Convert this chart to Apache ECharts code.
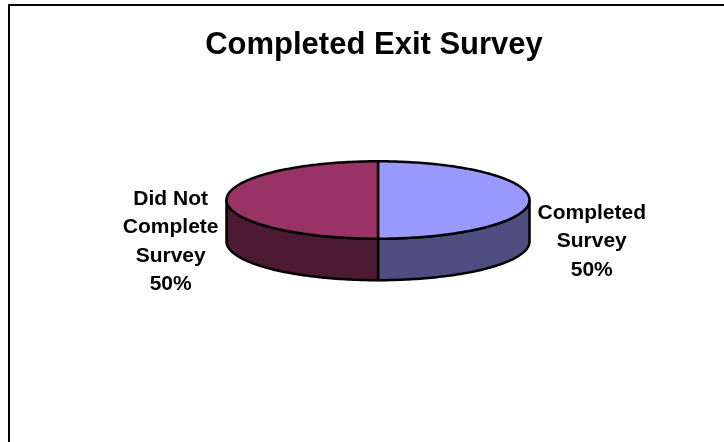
<!DOCTYPE html>
<html>
<head>
<meta charset="utf-8">
<script src="https://cdn.jsdelivr.net/npm/echarts@6/dist/echarts.min.js"></script>
<style>
html,body{margin:0;padding:0;background:#fff;}
#chart{width:724px;height:442px;}
</style>
</head>
<body>
<div id="chart"></div>
<script>
// ---- data ----
const titleText = 'Completed Exit Survey';
const categories = ['Completed\nSurvey', 'Did Not\nComplete\nSurvey'];
const values = [50, 50];
const topColors = ['#9999FF', '#993366'];
const sideColors = ['#4D4D80', '#4D1A33'];

// ---- layout ----
const CX = 378, CY = 200, RX = 151.5, RY = 38.7, DEPTH = 41.5;
const LABEL_FONT = 'bold 21px "Liberation Sans", Arial, sans-serif';
const LABEL_GAP = 8;

const total = values.reduce((a, b) => a + b, 0);
const slices = [];
let acc = -Math.PI / 2;
values.forEach((v, i) => {
  const a0 = acc, a1 = acc + (v / total) * Math.PI * 2;
  slices.push({ a0, a1, v, i });
  acc = a1;
});

function ePt(a, dy) { return [CX + RX * Math.cos(a), CY + RY * Math.sin(a) + (dy || 0)]; }
function arcPts(a0, a1, dy) {
  const n = Math.max(4, Math.ceil(Math.abs(a1 - a0) / 0.02));
  const pts = [];
  for (let k = 0; k <= n; k++) pts.push(ePt(a0 + (a1 - a0) * k / n, dy));
  return pts;
}
const measureCtx = document.createElement('canvas').getContext('2d');
measureCtx.font = LABEL_FONT;
function blockWidth(txt) { return Math.max(...txt.split('\n').map(s => measureCtx.measureText(s).width)); }

const chart = echarts.init(document.getElementById('chart'), null, { renderer: 'canvas' });

function renderItem(params, api) {
  const idx = params.dataIndex;
  const s = slices[idx];
  const children = [];
  const stroke = { stroke: '#000', lineWidth: 2.5, lineJoin: 'round' };
  // side wall (visible front half: angles between 0 and PI)
  const lo = Math.max(s.a0, 0), hi = Math.min(s.a1, Math.PI);
  if (hi > lo) {
    const pts = arcPts(lo, hi, 0).concat(arcPts(hi, lo, DEPTH));
    children.push({ type: 'polygon', shape: { points: pts }, style: Object.assign({ fill: sideColors[s.i] }, stroke), z2: 1 });
  }
  // top face
  const topPts = [[CX, CY]].concat(arcPts(s.a0, s.a1, 0));
  children.push({ type: 'polygon', shape: { points: topPts }, style: Object.assign({ fill: topColors[s.i] }, stroke), z2: 2 });
  // label
  const mid = (s.a0 + s.a1) / 2;
  const txt = categories[s.i] + '\n' + Math.round(s.v / total * 100) + '%';
  const w = blockWidth(txt);
  const cosm = Math.cos(mid);
  const edgeX = CX + RX * cosm;
  const lx = cosm >= 0 ? edgeX + LABEL_GAP + w / 2 : edgeX - LABEL_GAP - w / 2;
  const ly = CY + RY * Math.sin(mid) + DEPTH;
  children.push({
    type: 'text', z2: 3,
    style: { text: txt, x: lx, y: ly, align: 'center', verticalAlign: 'middle',
      font: LABEL_FONT, lineHeight: 28.5, fill: '#000' }
  });
  return { type: 'group', children };
}

chart.setOption({
  animation: false,
  backgroundColor: '#fff',
  title: {
    text: titleText, left: 369, top: 25, textAlign: 'center',
    textStyle: { fontFamily: '"Liberation Sans", Arial, sans-serif', fontWeight: 'bold', fontSize: 31, color: '#000' }
  },
  graphic: [{
    type: 'rect', shape: { x: 9, y: 5, width: 800, height: 600 },
    style: { fill: 'none', stroke: '#000', lineWidth: 2 }, z: -1
  }],
  series: [{
    type: 'custom',
    coordinateSystem: 'none',
    renderItem: renderItem,
    data: values.map((v, i) => ({ value: v, name: categories[i] }))
  }]
});
</script>
</body>
</html>
